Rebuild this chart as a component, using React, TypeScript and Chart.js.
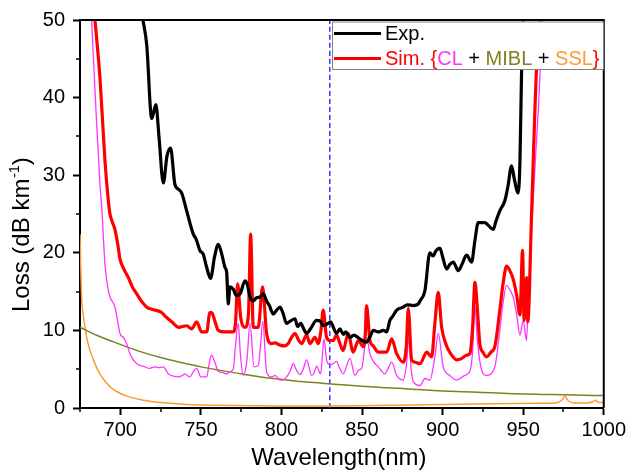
import React, { useEffect, useRef } from 'react';
import { Chart, registerables } from 'chart.js';

Chart.register(...registerables);

const FONT = '"Liberation Sans", Arial, sans-serif';

// Axis ticks
const xTicks = [700, 750, 800, 850, 900, 950, 1000];
const xMinorTicks = [675, 725, 775, 825, 875, 925, 975];
const yTicks = [0, 10, 20, 30, 40, 50];
const yMinorTicks = [5, 15, 25, 35, 45];
const markerWavelength = 830;

// Experimental loss [wavelength nm, dB/km]
const expData = [
  [714.1, 50], [716.4, 46.8], [719.5, 37.3], [722.1, 39.1], [724, 35], [726.7, 29.0], [729, 32.5], [731.2, 33.5],
  [733.9, 28.8], [736, 28.2], [738.1, 27.7], [741.2, 25.4], [745.3, 22.4], [747, 21.8], [749.4, 20.3], [751.5, 19.8],
  [753.5, 18.2], [756, 16.7], [758.5, 19.5], [760.8, 21.1], [763, 19.8], [765, 18.1], [766, 17.5], [767, 13.4],
  [768, 15.6], [770.1, 15.3], [772, 14.5], [774.3, 14.7], [777.4, 16.4], [779, 15.8], [780.5, 14.3], [782.5, 13.8],
  [784.5, 14.2], [786.7, 14.3], [788.7, 14.7], [790.8, 13.8], [792.5, 13.2], [794.9, 12.1], [797, 12.6], [799.1, 13.0],
  [801, 12.2], [803.2, 10.9], [805.5, 11.2], [808.4, 11.5], [810, 10.5], [812, 10.9], [814, 10.1], [815.6, 9.6],
  [818, 10.2], [821.8, 11.3], [824, 11.2], [826, 10.6], [829, 10.9], [830.5, 11.1], [832, 10.5], [834.2, 9.6],
  [836.3, 10.2], [838.5, 9.5], [840, 9.8], [842.5, 9.1], [845, 9.4], [848, 9.0], [850, 8.7], [852.9, 8.5],
  [855, 9.2], [857, 10.0], [860, 9.8], [863.2, 10.0], [865.3, 9.8], [867.3, 11.3], [869, 11.8], [871.5, 12.6],
  [875.6, 13.0], [878, 13.3], [881.8, 13.2], [884.9, 13.4], [886, 13.8], [889, 15.1], [892.1, 20.0], [894, 19.6],
  [896, 20.3], [898.3, 20.6], [900, 19.5], [902.5, 17.9], [904.5, 18.5], [906.6, 18.8], [909.7, 17.7], [912, 18.5],
  [914.9, 19.7], [918, 18.8], [920, 21.5], [922.1, 23.9], [926.2, 23.9], [928.5, 23.5], [931.4, 23.0], [933, 24.0],
  [935.5, 25.4], [938.6, 26.7], [940.5, 28.5], [942.8, 31.2], [944.5, 29.5], [946.9, 27.7], [948, 31.8], [949, 43.3],
  [950, 50],
];

// Simulated total loss (CL + MIBL + SSL)
const simData = [
  [684.3, 50], [687.4, 42.5], [690.5, 31.8], [692.6, 26.7], [693.6, 25.0], [695, 24.0], [696.7, 23.0], [698.5, 21.0],
  [699.8, 19.2], [702, 18.0], [705, 16.8], [707.5, 15.6], [710.2, 14.7], [713, 13.8], [716.4, 13.0], [720, 12.7],
  [722, 12.6], [725.7, 12.3], [728, 11.8], [730.8, 11.3], [733, 10.9], [736, 10.4], [738.5, 10.5], [741.2, 10.6],
  [744.3, 10.2], [747.4, 11.1], [750.5, 9.8], [753.6, 9.8], [755.6, 12.3], [756.7, 12.3], [758.7, 11.2], [760.8, 10.0],
  [765, 9.8], [770.1, 9.8], [771.5, 11], [772.8, 16.0], [774.7, 11.7], [777.4, 10.4], [779.5, 12], [780.9, 22.4],
  [782.5, 10.4], [785.6, 10.4], [788.3, 15.6], [790.8, 9.6], [793.9, 8.3], [796, 8.4], [799.1, 8.1], [802, 8.0],
  [804.2, 8.3], [806, 9.0], [808.4, 9.6], [810.5, 8.8], [812.5, 8.3], [815.6, 9.4], [817.7, 8.3], [820.8, 9.1],
  [822.8, 8.3], [824.5, 10], [825.9, 12.6], [828, 9.1], [830.1, 8.7], [832.1, 8.7], [834.2, 9.4], [836, 8.5],
  [838.3, 7.4], [841.4, 9.6], [844.5, 7.2], [847.7, 8.7], [850.8, 7.9], [852, 9.5], [852.8, 13.2], [854.9, 8.7],
  [857, 8.0], [860.1, 7.2], [865.3, 7.2], [868.4, 8.9], [871.5, 7.0], [875.6, 5.9], [877.5, 8], [878.7, 12.8],
  [880.8, 6.2], [883, 5.9], [886, 5.7], [890.1, 7.2], [893.2, 6.6], [895.2, 10.9], [897.3, 14.9], [899.4, 10.4],
  [902.5, 8.0], [905, 7.0], [908.7, 6.2], [912, 6.4], [914.9, 6.8], [916.9, 7.0], [918.5, 10], [920.1, 16.2],
  [921.5, 13], [923.1, 8.3], [925, 7.2], [927.3, 6.6], [930, 7.2], [932.4, 7.9], [935.5, 12.6], [937.5, 16],
  [939.7, 18.3], [941.5, 17.8], [943.8, 16.6], [946, 14.5], [948, 12.0], [949.6, 20.3], [950.6, 11.3], [952.1, 16.8],
  [952.9, 11.1], [955.2, 25], [958.3, 43.8], [961, 50],
];

// Confinement loss (CL)
const clData = [
  [682.2, 50], [685, 38], [687.4, 28.8], [688.5, 25.8], [690.5, 18.5], [692.6, 15.1], [693.6, 14.3], [696.7, 13.0],
  [698.5, 11], [699.8, 9.6], [701.9, 9.1], [703.9, 8.3], [706, 7], [708.1, 6.2], [711, 5.6], [715.3, 5.3],
  [718, 5.1], [721.5, 5.3], [724, 5.2], [726.7, 5.3], [729.8, 4.4], [733, 4.1], [736, 4.0], [738.5, 4.2],
  [740.1, 4.4], [743.2, 4.0], [745, 4.6], [747.4, 5.1], [750, 4.0], [753.6, 4.0], [755, 5.5], [756.5, 6.8],
  [758.7, 5.9], [760.8, 4.7], [763, 4.6], [766, 4.4], [768, 4.7], [770.1, 5], [771.2, 7.4], [773.2, 10.9],
  [774.5, 7], [776.3, 4.2], [778.5, 6], [780.5, 10.9], [783, 5.3], [785.6, 5.5], [787, 8], [788.4, 11.2],
  [790.8, 4.6], [793.9, 4.0], [796, 4.2], [799.1, 3.6], [801, 3.6], [803.2, 4.0], [805.5, 4.8], [807.3, 5.7],
  [809.5, 4.8], [811.5, 4.3], [813.5, 5], [815.6, 6.2], [818.7, 4.2], [820.5, 4.6], [821.8, 5.4], [824.3, 4.4],
  [826.4, 8.9], [828, 6.2], [829, 5.7], [831, 5.6], [834.2, 6.0], [836, 5.2], [838.3, 4.4], [842.5, 6.4],
  [845.6, 4.2], [848, 4.9], [849.8, 5.1], [852.8, 9.1], [854.9, 7.0], [857, 6], [860.1, 5.3], [864.2, 4.4],
  [866, 5], [868.4, 5.9], [871.5, 4.2], [875.6, 3.6], [877.5, 5.5], [879.1, 8.9], [880.5, 5], [881.8, 3.4],
  [886, 2.9], [889, 3.8], [892.1, 3.6], [895.2, 6.6], [897.3, 9.6], [900.4, 5.3], [904.5, 4.2], [908.7, 3.6],
  [913.8, 4.2], [916.9, 4.7], [918.5, 7], [920.1, 13.0], [921.5, 9], [924.2, 4.9], [927.3, 4.2], [932.4, 5.3],
  [935.5, 10.0], [937.5, 13.5], [939.7, 15.8], [941.5, 15.3], [943.8, 14.3], [946, 12], [948, 9.4], [950, 11.3],
  [952.1, 8.7], [953.1, 13.8], [955, 22], [957.3, 30.9], [960.4, 42.9], [961.5, 50],
];

// Microbending loss (MIBL)
const miblData = [
  [675, 10.4], [685, 9.4], [700, 8.2], [712, 7.3], [725, 6.5], [737, 5.9], [750, 5.3], [762, 4.85],
  [775, 4.4], [787, 4.0], [800, 3.7], [812, 3.4], [825, 3.2], [837, 3.0], [850, 2.8], [862, 2.65],
  [875, 2.5], [887, 2.35], [900, 2.2], [912, 2.1], [925, 2.0], [937, 1.9], [950, 1.8], [962, 1.75],
  [975, 1.7], [987, 1.65], [1000, 1.6],
];

// Surface scattering loss (SSL)
const sslData = [
  [675, 22.4], [675.5, 18], [676, 14.3], [677, 12], [678.1, 10.4], [680, 8.3], [683.3, 6.2], [687, 4.5],
  [691.6, 3.2], [695, 2.5], [699.8, 1.9], [706, 1.4], [714.3, 1.0], [725, 0.7], [741.2, 0.45], [760, 0.35],
  [780, 0.3], [800, 0.25], [830, 0.25], [850, 0.3], [870, 0.35], [900, 0.45], [930, 0.55], [960, 0.6],
  [970, 0.65], [974, 1.0], [976, 1.5], [978, 0.9], [982, 0.65], [990, 0.65], [993, 0.8], [995, 1.0],
  [997, 0.7], [1000, 0.7],
];

const toPts = (arr: number[][]) => arr.map(([x, y]) => ({ x, y }));

const COL_EXP = '#000000';
const COL_SIM = '#ff0000';
const COL_CL = '#ff33ff';
const COL_MIBL = '#808020';
const COL_SSL = '#ff9933';
const COL_MARK = '#3333ff';

const framePlugin = {
  id: 'frameAndExtras',
  afterDraw(chart: any) {
    const { ctx, chartArea, scales } = chart;
    const xs = scales.x;
    const ys = scales.y;
    ctx.save();
    // top & right frame
    ctx.strokeStyle = '#000';
    ctx.lineWidth = 2;
    ctx.beginPath();
    ctx.moveTo(chartArea.left, chartArea.top);
    ctx.lineTo(chartArea.right, chartArea.top);
    ctx.lineTo(chartArea.right, chartArea.bottom);
    ctx.stroke();
    // minor ticks
    ctx.lineWidth = 1.5;
    ctx.beginPath();
    xMinorTicks.forEach((v) => {
      const px = Math.round(xs.getPixelForValue(v));
      ctx.moveTo(px, chartArea.bottom);
      ctx.lineTo(px, chartArea.bottom + 4);
    });
    yMinorTicks.forEach((v) => {
      const py = Math.round(ys.getPixelForValue(v));
      ctx.moveTo(chartArea.left - 4, py);
      ctx.lineTo(chartArea.left, py);
    });
    ctx.stroke();

    // Legend
    const lx = 332, ly = 21.5, lw = 271, lh = 47.5;
    ctx.fillStyle = '#fff';
    ctx.fillRect(lx, ly, lw, lh);
    ctx.strokeStyle = '#808080';
    ctx.lineWidth = 1;
    ctx.strokeRect(lx + 0.5, ly + 0.5, lw, lh);

    ctx.lineWidth = 3;
    ctx.strokeStyle = COL_EXP;
    ctx.beginPath();
    ctx.moveTo(334, 33.5);
    ctx.lineTo(381, 33.5);
    ctx.stroke();
    ctx.strokeStyle = COL_SIM;
    ctx.beginPath();
    ctx.moveTo(334, 58.5);
    ctx.lineTo(381, 58.5);
    ctx.stroke();

    ctx.font = `20px ${FONT}`;
    ctx.textBaseline = 'alphabetic';
    ctx.textAlign = 'left';
    ctx.fillStyle = COL_EXP;
    ctx.fillText('Exp.', 385, 40);
    const parts: [string, string][] = [
      ['Sim. {', COL_SIM], ['CL', COL_CL], [' + ', '#000'], ['MIBL', COL_MIBL],
      [' + ', '#000'], ['SSL', COL_SSL], ['}', COL_SIM],
    ];
    let tx = 385;
    parts.forEach(([t, c]) => {
      ctx.fillStyle = c;
      ctx.fillText(t, tx, 65);
      tx += ctx.measureText(t).width;
    });

    // Axis titles
    ctx.fillStyle = '#000';
    ctx.font = `24px ${FONT}`;
    ctx.textAlign = 'center';
    ctx.fillText('Wavelength(nm)', (chartArea.left + chartArea.right) / 2 - 3, 465);

    ctx.save();
    ctx.translate(29, 312);
    ctx.rotate(-Math.PI / 2);
    ctx.textAlign = 'left';
    ctx.font = `24px ${FONT}`;
    const main = 'Loss (dB km';
    ctx.fillText(main, 0, 0);
    let off = ctx.measureText(main).width;
    ctx.font = `14px ${FONT}`;
    ctx.fillText('-1', off + 1, -10);
    off += ctx.measureText('-1').width + 1;
    ctx.font = `24px ${FONT}`;
    ctx.fillText(')', off, 0);
    ctx.restore();

    ctx.restore();
  },
};

export default function App() {
  const ref = useRef<HTMLCanvasElement | null>(null);
  useEffect(() => {
    if (!ref.current) return;
    const line = (data: number[][], color: string, width: number) => ({
      data: toPts(data),
      borderColor: color,
      backgroundColor: color,
      borderWidth: width,
      pointRadius: 0,
      cubicInterpolationMode: 'monotone' as const,
      fill: false,
      borderJoinStyle: 'round' as const,
    });
    const chart = new Chart(ref.current, {
      type: 'line',
      data: {
        datasets: [
          line(expData, COL_EXP, 3.2),
          line(simData, COL_SIM, 3.2),
          line(clData, COL_CL, 1.3),
          line(miblData, COL_MIBL, 1.5),
          line(sslData, COL_SSL, 1.5),
          {
            ...line([[markerWavelength, 0], [markerWavelength, 50]], COL_MARK, 1.5),
            borderDash: [5, 3],
          },
        ],
      },
      options: {
        animation: false,
        responsive: false,
        maintainAspectRatio: false,
        layout: { padding: { top: 18, right: 25, left: 0, bottom: 0 } },
        plugins: { legend: { display: false }, tooltip: { enabled: false } },
        scales: {
          x: {
            type: 'linear',
            min: 675,
            max: 1000,
            afterBuildTicks: (s: any) => { s.ticks = xTicks.map((v) => ({ value: v })); },
            afterFit: (s: any) => { s.height = 65; },
            ticks: {
              color: '#000', font: { family: FONT, size: 20 }, padding: 3, maxRotation: 0,
              callback: (v: any) => String(v),
            },
            grid: { drawOnChartArea: false, drawTicks: true, tickLength: 7, tickWidth: 2, tickColor: '#000' },
            border: { display: true, color: '#000', width: 2 },
          },
          y: {
            type: 'linear',
            min: 0,
            max: 50,
            afterBuildTicks: (s: any) => { s.ticks = yTicks.map((v) => ({ value: v })); },
            afterFit: (s: any) => { s.width = 80; },
            ticks: { color: '#000', font: { family: FONT, size: 20 }, padding: 8, callback: (v: any) => String(v) },
            grid: { drawOnChartArea: false, drawTicks: true, tickLength: 7, tickWidth: 2, tickColor: '#000' },
            border: { display: true, color: '#000', width: 2 },
          },
        },
      },
      plugins: [framePlugin],
    });
    return () => chart.destroy();
  }, []);
  return (
    <div style={{ position: 'fixed', left: 0, top: 0, width: 629, height: 473, background: '#fff' }}>
      <canvas ref={ref} width={629} height={473} style={{ width: 629, height: 473, display: 'block' }} />
    </div>
  );
}
